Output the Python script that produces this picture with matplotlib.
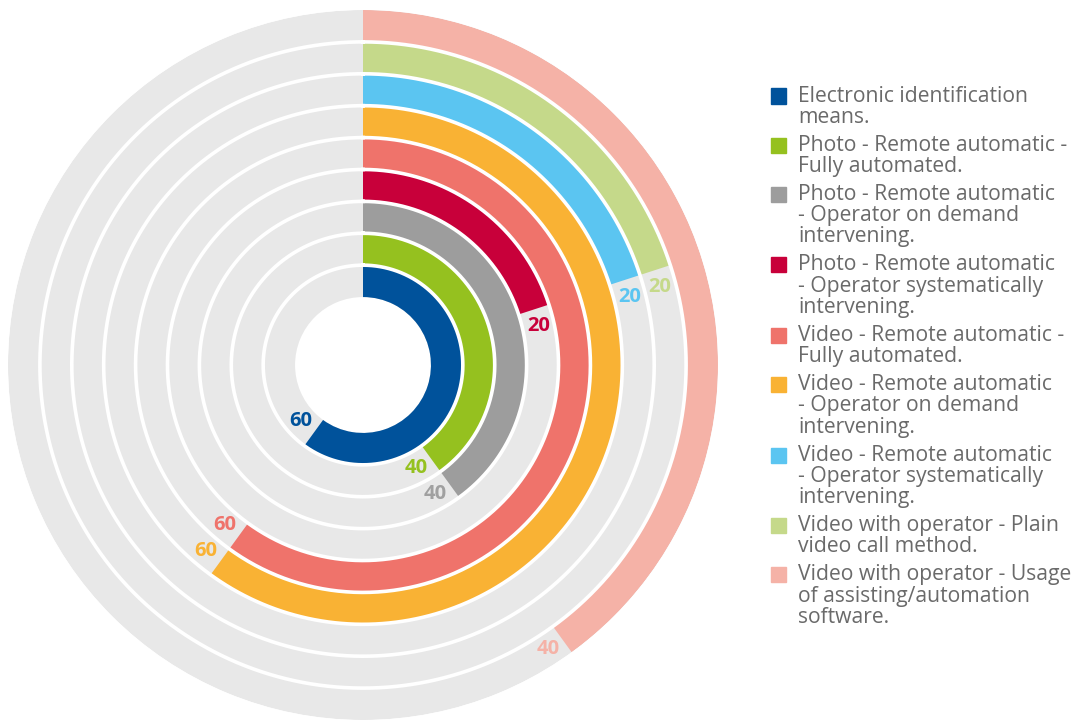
import numpy as np
import matplotlib
matplotlib.use("Agg")
import matplotlib.pyplot as plt

plt.rcParams['font.family'] = ['Open Sans', 'DejaVu Sans']

categories = [
    "Electronic identification\nmeans.",
    "Photo - Remote automatic -\nFully automated.",
    "Photo - Remote automatic\n- Operator on demand\nintervening.",
    "Photo - Remote automatic\n- Operator systematically\nintervening.",
    "Video - Remote automatic -\nFully automated.",
    "Video - Remote automatic\n- Operator on demand\nintervening.",
    "Video - Remote automatic\n- Operator systematically\nintervening.",
    "Video with operator - Plain\nvideo call method.",
    "Video with operator - Usage\nof assisting/automation\nsoftware.",
]
values = [60, 40, 40, 20, 60, 60, 20, 20, 40]
colors = ["#00529b", "#95c11f", "#9d9d9d", "#c8003a", "#ef736b",
          "#f9b234", "#5bc5f1", "#c5d98a", "#f5b2a7"]
label_colors = ["#00529b", "#95c11f", "#a0a0a0", "#c8003a", "#ef736b",
                "#f9b234", "#5bc5f1", "#c5d98a", "#f5b2a7"]
max_value = 100

W, H = 1074, 720
fig = plt.figure(figsize=(W / 100, H / 100), dpi=100)

cx, cy, R = 363, 365, 355
hole = 2.13
n = len(values)
rmax = hole + n
px_per_unit = R / rmax

ax = fig.add_axes([(cx - R) / W, (H - cy - R) / H, 2 * R / W, 2 * R / H],
                  projection='polar')
ax.set_theta_zero_location('N')
ax.set_theta_direction(-1)
ax.set_ylim(0, rmax)
ax.axis('off')

# background rings
for i in range(n):
    ax.bar(0, 1, width=2 * np.pi, bottom=hole + i, align='edge',
           color="#e8e8e8", edgecolor='none', linewidth=0)

# value bars
for i, (v, c) in enumerate(zip(values, colors)):
    ax.bar(0, 1, width=2 * np.pi * v / max_value, bottom=hole + i, align='edge',
           color=c, edgecolor='none', linewidth=0)

# white separators
t = np.linspace(0, 2 * np.pi, 720)
for i in range(1, n):
    ax.plot(t, np.full_like(t, hole + i), color='white', lw=2.6)

# value labels
for i, (v, c) in enumerate(zip(values, label_colors)):
    rmid = hole + i + 0.5
    end = 2 * np.pi * v / max_value
    off = 17.5 / (rmid * px_per_unit)
    ax.text(end + off, rmid, str(v), color=c, fontsize=14.5, fontweight='bold',
            ha='center', va='center')

# legend
line_h = 21.3
gap = 6.6
y = 96
for lab, c in zip(categories, colors):
    lines = lab.split("\n")
    fig.patches.append(plt.Rectangle(((771) / W, 1 - (y + 7.5) / H), 15 / W, 15 / H,
                                     transform=fig.transFigure, color=c,
                                     figure=fig))
    for k, ln in enumerate(lines):
        fig.text(798 / W, 1 - (y + k * line_h) / H, ln, color="#6a6a6a",
                 fontsize=15.2, ha='left', va='center')
    y += len(lines) * line_h + gap

fig.savefig("out.png", dpi=100, facecolor='white')
